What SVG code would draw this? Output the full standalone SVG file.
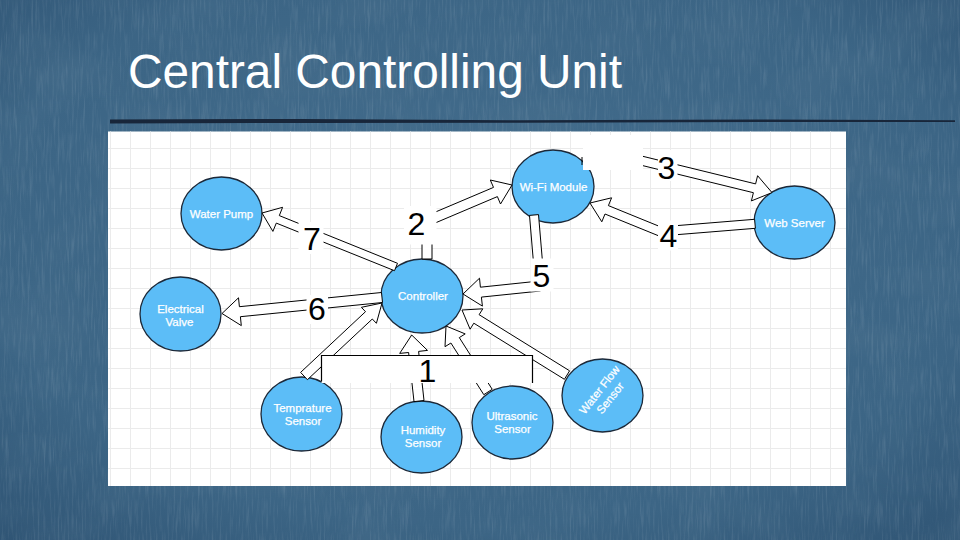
<svg xmlns="http://www.w3.org/2000/svg" width="960" height="540" viewBox="0 0 960 540">
<defs>
<style>
.node{fill:#5cbdf7;stroke:#1b2838;stroke-width:1.3}
.nt{font-family:"Liberation Sans",Arial,sans-serif;font-size:11.5px;fill:#ffffff;stroke:#ffffff;stroke-width:0.25;text-anchor:middle}
.arr{fill:#ffffff;stroke:#000000;stroke-width:1;stroke-linejoin:miter}
.lbl{font-family:"Liberation Sans",Arial,sans-serif;font-size:32px;fill:#000000;text-anchor:middle}
.bg{fill:#ffffff}
</style>
<pattern id="grid" width="20" height="20" patternUnits="userSpaceOnUse" x="110" y="148">
<path d="M0 0.5H20M0.5 0V20" fill="none" stroke="#ebebeb" stroke-width="1"/>
</pattern>
<radialGradient id="vig" cx="50%" cy="45%" r="75%">
<stop offset="0" stop-color="#436d8d"/>
<stop offset="0.7" stop-color="#3c6585"/>
<stop offset="1" stop-color="#2f5474"/>
</radialGradient>
<filter id="chalk" x="0" y="0" width="100%" height="100%">
<feTurbulence type="fractalNoise" baseFrequency="0.5 0.03" numOctaves="3" seed="7"/>
<feColorMatrix type="matrix" values="0 0 0 0 1  0 0 0 0 1  0 0 0 0 1  0.7 0 0 0 -0.33"/>
</filter>
<filter id="blot" x="0" y="0" width="100%" height="100%">
<feTurbulence type="fractalNoise" baseFrequency="0.012 0.02" numOctaves="2" seed="3"/>
<feColorMatrix type="matrix" values="0 0 0 0 0.1  0 0 0 0 0.2  0 0 0 0 0.3  0.9 0 0 0 -0.4"/>
</filter>
</defs>

<rect x="0" y="0" width="960" height="540" fill="url(#vig)"/>
<rect x="0" y="0" width="960" height="540" filter="url(#blot)" opacity="0.6"/>
<rect x="0" y="0" width="960" height="540" filter="url(#chalk)" opacity="0.35"/>

<text x="128" y="88" font-family="'Liberation Sans',Arial,sans-serif" font-size="48" textLength="494" lengthAdjust="spacingAndGlyphs" fill="#ffffff">Central Controlling Unit</text>
<path d="M110,119.4 L300,119 L520,120.2 L760,119.6 L955,120.3 L955,122 L760,121.9 L520,122.7 L300,123 L110,123.4 Z" fill="#18263a"/>

<rect x="108" y="131.5" width="738" height="354.5" fill="#ffffff"/>
<rect x="108" y="131.5" width="738" height="354.5" fill="url(#grid)"/>

<g id="node-water-pump"><ellipse class="node" cx="221.5" cy="213.5" rx="40.5" ry="36.5"/><text class="nt" x="221.5" y="218">Water Pump</text></g>
<g id="node-electrical-valve"><ellipse class="node" cx="180.5" cy="314" rx="40.5" ry="37"/><text class="nt" x="180.5" y="312.5">Electrical</text><text class="nt" x="179.5" y="325.5">Valve</text></g>
<g id="node-controller"><ellipse class="node" cx="422" cy="296" rx="41" ry="37"/><text class="nt" x="423" y="300">Controller</text></g>
<g id="node-wifi-module"><ellipse class="node" cx="553" cy="186.5" rx="41" ry="36.5"/><text class="nt" x="553.5" y="191">Wi-Fi Module</text></g>
<g id="node-web-server"><ellipse class="node" cx="794.5" cy="222.5" rx="40.5" ry="36.5"/><text class="nt" x="794.5" y="227">Web Server</text></g>
<g id="node-temprature-sensor"><ellipse class="node" cx="301.5" cy="414" rx="40.5" ry="37"/><text class="nt" x="302.5" y="411.5">Temprature</text><text class="nt" x="303" y="424.5">Sensor</text></g>
<g id="node-humidity-sensor"><ellipse class="node" cx="421.5" cy="437" rx="40.5" ry="36"/><text class="nt" x="423" y="433.5">Humidity</text><text class="nt" x="423" y="446.5">Sensor</text></g>
<g id="node-ultrasonic-sensor"><ellipse class="node" cx="512.5" cy="422.5" rx="40.5" ry="36.5"/><text class="nt" x="512" y="419.5">Ultrasonic</text><text class="nt" x="512.5" y="432.5">Sensor</text></g>
<g id="node-water-flow-sensor"><ellipse class="node" cx="602.5" cy="395.5" rx="40.5" ry="36.5"/><g transform="translate(605,394) rotate(-52)"><text class="nt" x="0" y="-3">Water Flow</text><text class="nt" x="0" y="10.5">Sensor</text></g></g>

<g id="connectors">
<polygon class="arr" points="397.5,263.3 279.3,215.6 282.6,207.3 262,213 272.9,231.4 276.3,223.1 394.5,270.7"/>
<polygon class="arr" points="381.5,292.5 239.4,306.7 238.5,297.8 222,313.5 241.3,325.6 240.4,316.7 382.5,302.5"/>
<polygon class="arr" points="422,221 422,259 432,259 432,221"/>
<polygon class="arr" points="429.0,225.6 497.4,196.6 500.5,204.0 512,185 490.3,180.0 493.5,187.4 425.1,216.4"/>
<polygon class="arr" points="529.5,215.4 535.5,286.4 544.5,285.6 538.5,214.6"/>
<polygon class="arr" points="539.5,281.0 480.4,287.2 479.5,278.2 463,294 482.4,306.1 481.4,297.1 540.5,291.0"/>
<polygon class="arr" points="598.9,154.9 753.4,192.7 751.4,200.9 772,192.6 757.6,175.7 755.6,183.9 601.1,146.1"/>
<polygon class="arr" points="754.6,219.3 659.6,227.0 660.4,236.0 755.4,228.3"/>
<polygon class="arr" points="661.7,227.3 608.4,205.6 611.6,197.8 590,203 601.8,221.8 605.0,214.0 658.3,235.7"/>
<polygon class="arr" points="307.4,379.7 372.3,319.0 376.4,323.3 382,303 361.4,307.3 365.5,311.7 300.6,372.4"/>
<polygon class="arr" points="424.0,400.5 418.6,351.4 427.5,350.4 411.7,335 399.7,353.4 408.6,352.5 414.0,401.6"/>
<polygon class="arr" points="492.2,389.3 459.3,337.6 465.2,333.9 446,326 445.0,346.7 450.9,343.0 483.8,394.7"/>
<polygon class="arr" points="569.6,370.8 479.1,314.7 482.8,308.8 462,310 470.1,329.2 473.8,323.2 564.4,379.3"/>
<line x1="582" y1="157" x2="582" y2="165" stroke="#000000" stroke-width="1"/>

<rect class="bg" x="583" y="135" width="60" height="35"/>
<rect class="bg" x="298.5" y="222" width="25" height="32"/>
<rect class="bg" x="306.5" y="295" width="21.5" height="29"/>
<rect class="bg" x="404" y="206" width="32.5" height="38.5"/>
<rect class="bg" x="530.5" y="258.5" width="23" height="33"/>
<rect class="bg" x="658" y="150" width="19.5" height="31"/>
<rect class="bg" x="658" y="220.5" width="20" height="30"/>

<rect class="bg" x="321.5" y="355.5" width="211" height="27.5"/>
<path d="M321.5,381.5 V355.5 H532.5 V383" fill="none" stroke="#000000" stroke-width="1.2"/>

<text class="lbl" x="312" y="250">7</text>
<text class="lbl" x="317" y="320">6</text>
<text class="lbl" x="416.5" y="235">2</text>
<text class="lbl" x="541.5" y="286.5">5</text>
<text class="lbl" x="666.5" y="178.5">3</text>
<text class="lbl" x="668.5" y="246.5">4</text>
<text class="lbl" x="427.5" y="381.5">1</text>
</g>
</svg>
